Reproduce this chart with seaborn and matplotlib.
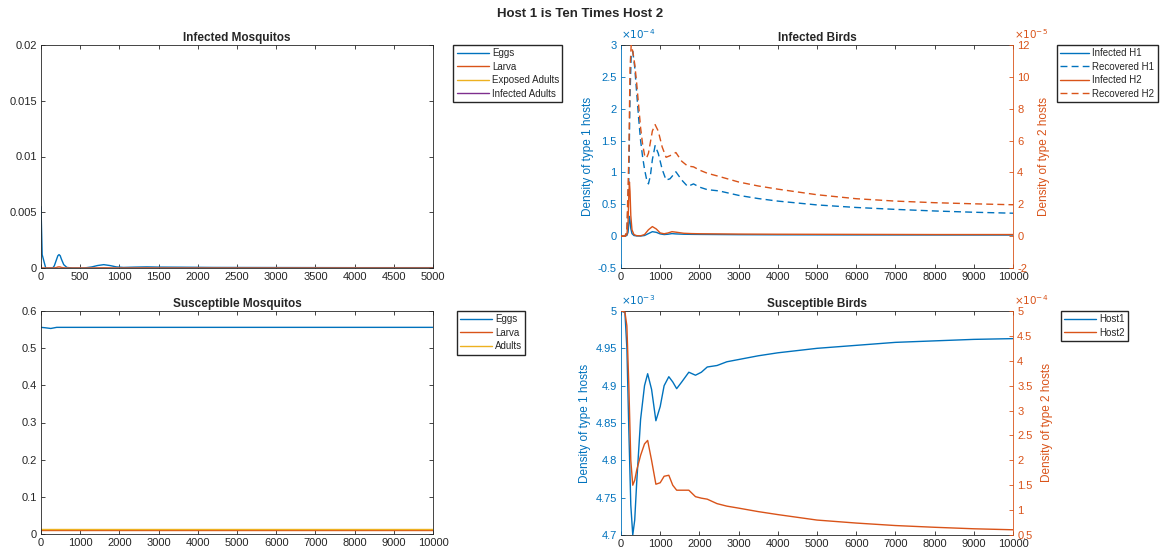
import numpy as np
import pandas as pd
import matplotlib
matplotlib.use("Agg")
import matplotlib.pyplot as plt
import seaborn as sns
from matplotlib.ticker import FuncFormatter, MultipleLocator

# ── data ──────────────────────────────────────────────────────────────────
# Infected mosquitos (x axis 0..5000)
t_im = [0, 15, 60, 150, 170, 200, 215, 230, 245, 260, 290, 330, 400, 550, 650, 720, 800,
        880, 960, 1050, 1200, 1350, 1500, 1800, 2200, 3000, 4000, 5000]
im_eggs = [0.0055, 0.0012, 0.0, 0.0, 0.0002, 0.0008, 0.0011, 0.0012, 0.0011, 0.0008, 0.0003,
           0.00005, 0.0, 0.0, 0.0001, 0.00022, 0.0003, 0.00022, 0.0001, 0.00005, 0.00008,
           0.0001, 0.00008, 0.00007, 0.00005, 0.00004, 0.00003, 0.00003]
im_larva = [0.0, 0.0, 0.0, 0.0, 0.00001, 0.00005, 0.00009, 0.0001, 0.00009, 0.00005, 0.00002,
            0.0, 0.0, 0.0, 0.0, 0.00001, 0.00002, 0.00001, 0.0, 0.0, 0.0,
            0.00001, 0.0, 0.0, 0.0, 0.0, 0.0, 0.0]
im_exposed = [0.0] * len(t_im)
im_infected = [0.0] * len(t_im)

# Susceptible mosquitos
t_sm = [0, 100, 250, 400, 600, 10000]
sm_eggs = [0.556, 0.555, 0.553, 0.556, 0.556, 0.556]
sm_larva = [0.010, 0.010, 0.010, 0.010, 0.010, 0.010]
sm_adults = [0.014, 0.014, 0.014, 0.014, 0.014, 0.014]

# Infected birds: recovered (dashed)
t_rec = [0, 100, 150, 200, 230, 260, 300, 350, 400, 450, 500, 550, 600, 650, 700, 750, 800,
         870, 950, 1050, 1150, 1250, 1400, 1550, 1700, 1850, 2000, 2200, 2500, 3000, 3500,
         4000, 5000, 6000, 7000, 8000, 9000, 10000]
rec_h1 = [0, 0, 0.05, 0.9, 2.2, 2.85, 2.9, 2.65, 2.25, 1.85, 1.5, 1.25, 1.05, 0.9, 0.82, 0.95,
          1.2, 1.42, 1.3, 1.05, 0.88, 0.9, 1.01, 0.88, 0.78, 0.82, 0.77, 0.73, 0.71, 0.64,
          0.59, 0.55, 0.49, 0.45, 0.42, 0.395, 0.375, 0.36]            # x1e-4
rec_h2 = [0, 0, 0.3, 5.0, 10.5, 12.0, 11.6, 10.8, 9.6, 8.2, 6.8, 5.8, 5.1, 4.9, 5.2, 5.9, 6.6,
          7.0, 6.6, 5.6, 4.95, 5.05, 5.25, 4.7, 4.4, 4.35, 4.15, 3.95, 3.75, 3.4, 3.15,
          2.95, 2.6, 2.35, 2.2, 2.1, 2.03, 1.97]                        # x1e-5

# Infected birds: infected (solid)
t_inf = [0, 100, 150, 180, 200, 215, 230, 250, 280, 330, 400, 500, 600, 700, 800, 900, 1000,
         1100, 1200, 1300, 1400, 1600, 1800, 2000, 2500, 3000, 4000, 6000, 8000, 10000]
inf_h1 = [0, 0, 0.01, 0.06, 0.2, 0.31, 0.25, 0.12, 0.04, 0.01, 0.003, 0.002, 0.01, 0.04, 0.07,
          0.06, 0.035, 0.025, 0.03, 0.04, 0.035, 0.03, 0.028, 0.027, 0.025, 0.023, 0.021,
          0.019, 0.018, 0.017]                                          # x1e-4
inf_h2 = [0, 0, 0.1, 0.9, 2.6, 3.4, 2.8, 1.3, 0.4, 0.1, 0.03, 0.02, 0.1, 0.4, 0.6, 0.45, 0.2,
          0.15, 0.2, 0.28, 0.25, 0.18, 0.16, 0.15, 0.14, 0.13, 0.12, 0.11, 0.1, 0.1]  # x1e-5

# Susceptible birds
t_sb = [0, 100, 150, 200, 250, 300, 350, 400, 500, 600, 680, 780, 890, 1000, 1100, 1220, 1320,
        1420, 1550, 1730, 1900, 2050, 2200, 2450, 2700, 3000, 3500, 4000, 5000, 6000, 7000,
        8000, 9000, 10000]
sb_host1 = [5.0, 4.998, 4.95, 4.84, 4.74, 4.70, 4.72, 4.77, 4.855, 4.9, 4.916, 4.895, 4.853,
            4.872, 4.9, 4.912, 4.905, 4.896, 4.905, 4.918, 4.914, 4.918, 4.925, 4.927, 4.932,
            4.935, 4.94, 4.944, 4.95, 4.954, 4.958, 4.96, 4.962, 4.963]  # x1e-3
sb_host2 = [5.0, 4.98, 4.7, 3.5, 2.0, 1.5, 1.6, 1.8, 2.1, 2.33, 2.4, 2.0, 1.52, 1.55, 1.68,
            1.7, 1.5, 1.4, 1.4, 1.4, 1.27, 1.24, 1.22, 1.13, 1.08, 1.04, 0.97, 0.91, 0.80,
            0.74, 0.69, 0.655, 0.625, 0.605]                           # x1e-4

# ── style ─────────────────────────────────────────────────────────────────
BLUE, ORANGE, YELLOW, PURPLE = "#0072BD", "#D95319", "#EDB120", "#7E2F8E"
GRAY = "#262626"
sns.set_theme(style="ticks")
plt.rcParams["font.family"] = ["Liberation Sans", "DejaVu Sans"]
plt.rcParams.update({
    "xtick.direction": "in", "ytick.direction": "in",
    "xtick.major.size": 3, "ytick.major.size": 3,
    "xtick.major.width": 0.6, "ytick.major.width": 0.6,
    "xtick.labelsize": 8, "ytick.labelsize": 8,
    "xtick.color": GRAY, "ytick.color": GRAY,
    "axes.edgecolor": GRAY, "axes.linewidth": 0.6,
    "xtick.major.pad": 3, "ytick.major.pad": 3,
})
LW = 1.0
DASH = (0, (5, 3))


def scaled(scale):
    return FuncFormatter(lambda v, p: f"{round(v / scale, 6) + 0.0:g}")


def line(ax, x, y, color, label, scale=1.0, ls="-"):
    sns.lineplot(x=np.asarray(x), y=np.asarray(y) * scale, ax=ax, color=color,
                 linewidth=LW, linestyle=ls, label=label, legend=False)


def legend(ax, handles, labels, x, hl=3.3):
    ax.legend(handles, labels, loc="upper left", bbox_to_anchor=(x, 1.0), borderaxespad=0,
              fontsize=7, fancybox=False, edgecolor=GRAY, framealpha=1,
              handlelength=hl, labelspacing=0.35, handletextpad=0.3, borderpad=0.35)


W, H = 1160, 554
fig = plt.figure(figsize=(W / 100, H / 100), dpi=100)


def box(l, t, r, b):
    return [l / W, 1 - b / H, (r - l) / W, (b - t) / H]


ax_im = fig.add_axes(box(41, 45, 433, 268))
ax_ib = fig.add_axes(box(621, 45, 1013, 268))
ax_sm = fig.add_axes(box(41, 311, 433, 534))
ax_sb = fig.add_axes(box(621, 311, 1013, 535))

# ── Infected Mosquitos ───────────────────────────────────────────────────
line(ax_im, t_im, im_eggs, BLUE, "Eggs")
line(ax_im, t_im, im_larva, ORANGE, "Larva")
line(ax_im, t_im, im_exposed, YELLOW, "Exposed Adults")
line(ax_im, t_im, im_infected, PURPLE, "Infected Adults")
ax_im.set_xlim(0, 5000)
ax_im.set_ylim(0, 0.02)
ax_im.xaxis.set_major_locator(MultipleLocator(500))
ax_im.yaxis.set_major_locator(MultipleLocator(0.005))
ax_im.yaxis.set_major_formatter(scaled(1))
ax_im.set_title("Infected Mosquitos", fontsize=8.5, fontweight="bold", pad=3)
h, l = ax_im.get_legend_handles_labels()
legend(ax_im, h, l, 1.052)

# ── Susceptible Mosquitos ────────────────────────────────────────────────
line(ax_sm, t_sm, sm_eggs, BLUE, "Eggs")
line(ax_sm, t_sm, sm_larva, ORANGE, "Larva")
line(ax_sm, t_sm, sm_adults, YELLOW, "Adults")
ax_sm.set_xlim(0, 10000)
ax_sm.set_ylim(0, 0.6)
ax_sm.xaxis.set_major_locator(MultipleLocator(1000))
ax_sm.yaxis.set_major_locator(MultipleLocator(0.1))
ax_sm.yaxis.set_major_formatter(scaled(1))
ax_sm.set_title("Susceptible Mosquitos", fontsize=8.5, fontweight="bold", pad=3)
h, l = ax_sm.get_legend_handles_labels()
legend(ax_sm, h, l, 1.06)

for ax in (ax_im, ax_sm):
    ax.tick_params(top=True, right=True)
    ax.set_xlabel("")
    ax.set_ylabel("")

# ── twin-axis bird panels ────────────────────────────────────────────────
def twin_setup(ax, ax2, s1, s2, e1, e2):
    ax.spines["right"].set_visible(False)
    ax2.spines["left"].set_visible(False)
    ax2.spines["top"].set_visible(False)
    ax2.spines["bottom"].set_visible(False)
    ax.spines["left"].set_color(BLUE)
    ax2.spines["right"].set_color(ORANGE)
    ax.tick_params(axis="y", colors=BLUE)
    ax2.tick_params(axis="y", colors=ORANGE)
    ax.tick_params(axis="x", top=True)
    ax.yaxis.set_major_formatter(scaled(s1))
    ax2.yaxis.set_major_formatter(scaled(s2))
    ax.set_xlim(0, 10000)
    ax.xaxis.set_major_locator(MultipleLocator(1000))
    ax.set_xlabel("")
    ax2.set_xlabel("")
    ax.set_ylabel("Density of type 1 hosts", color=BLUE, fontsize=8.5, labelpad=3)
    ax2.set_ylabel("Density of type 2 hosts", color=ORANGE, fontsize=8.5, labelpad=6)
    ax.text(0, 1.02, r"$\times10^{%d}$" % e1, transform=ax.transAxes, color=BLUE,
            fontsize=7.5, ha="left", va="bottom")
    ax.text(1.002, 1.02, r"$\times10^{%d}$" % e2, transform=ax.transAxes, color=ORANGE,
            fontsize=7.5, ha="left", va="bottom")


# Infected Birds
ax_ib2 = ax_ib.twinx()
line(ax_ib, t_inf, inf_h1, BLUE, "Infected H1", 1e-4)
line(ax_ib, t_rec, rec_h1, BLUE, "Recovered H1", 1e-4, DASH)
line(ax_ib2, t_inf, inf_h2, ORANGE, "Infected H2", 1e-5)
line(ax_ib2, t_rec, rec_h2, ORANGE, "Recovered H2", 1e-5, DASH)
ax_ib.set_ylim(-0.5e-4, 3e-4)
ax_ib.yaxis.set_major_locator(MultipleLocator(0.5e-4))
ax_ib2.set_ylim(-2e-5, 12e-5)
ax_ib2.yaxis.set_major_locator(MultipleLocator(2e-5))
twin_setup(ax_ib, ax_ib2, 1e-4, 1e-5, -4, -5)
ax_ib.set_title("Infected Birds", fontsize=8.5, fontweight="bold", pad=3)
h1, l1 = ax_ib.get_legend_handles_labels()
h2, l2 = ax_ib2.get_legend_handles_labels()
legend(ax_ib2, h1 + h2, l1 + l2, 1.112, hl=3.0)

# Susceptible Birds
ax_sb2 = ax_sb.twinx()
line(ax_sb, t_sb, sb_host1, BLUE, "Host1", 1e-3)
line(ax_sb2, t_sb, sb_host2, ORANGE, "Host2", 1e-4)
ax_sb.set_ylim(4.7e-3, 5e-3)
ax_sb.yaxis.set_major_locator(MultipleLocator(0.05e-3))
ax_sb2.set_ylim(0.5e-4, 5e-4)
ax_sb2.yaxis.set_major_locator(MultipleLocator(0.5e-4))
twin_setup(ax_sb, ax_sb2, 1e-3, 1e-4, -3, -4)
ax_sb.set_title("Susceptible Birds", fontsize=8.5, fontweight="bold", pad=3)
h1, l1 = ax_sb.get_legend_handles_labels()
h2, l2 = ax_sb2.get_legend_handles_labels()
legend(ax_sb2, h1 + h2, l1 + l2, 1.122)

fig.suptitle("Host 1 is Ten Times Host 2", fontsize=9.5, fontweight="bold", y=0.985)

fig.savefig("out.png", dpi=100)
plt.close(fig)
